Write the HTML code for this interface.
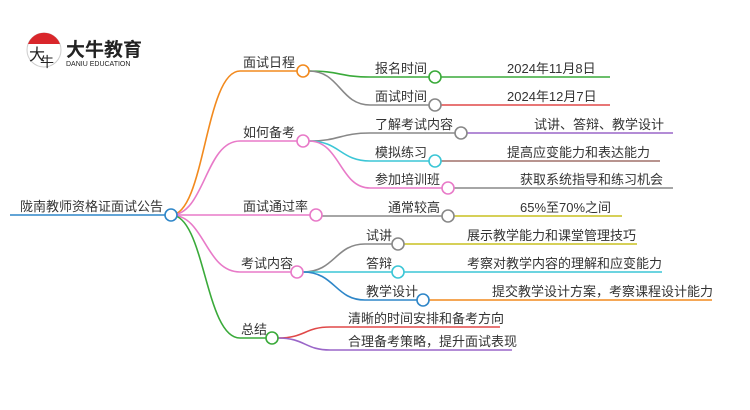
<!DOCTYPE html>
<html><head><meta charset="utf-8"><style>
html,body{margin:0;padding:0;background:#fff}
svg{display:block}
text{font-family:"Liberation Sans","Noto Sans CJK SC",sans-serif;fill:#333}
</style></head><body>
<svg width="750" height="410" viewBox="0 0 750 410" xmlns="http://www.w3.org/2000/svg">
<!-- logo -->
<circle cx="44" cy="50" r="17" fill="#fff" stroke="#ccc" stroke-width="1"/>
<path d="M28 44 A17 17 0 0 1 60 44 Z" fill="#d9262b"/>
<text x="29" y="60" font-size="16" style="fill:#222">大</text>
<text x="40" y="67" font-size="14" style="fill:#222">牛</text>
<text x="66" y="56" font-size="19" font-weight="bold" style="fill:#222">大牛教育</text>
<text x="66" y="66" font-size="7" style="fill:#222">DANIU EDUCATION</text>

<g fill="none" stroke-width="1.6">
<path d="M10 215 L165 215" stroke="#2e86c8"/>
<path d="M171 215 C205 215 205 71 240 71 L297 71" stroke="#f28a1e"/>
<path d="M171 215 C205 215 205 141 240 141 L297 141" stroke="#e87ac8"/>
<path d="M171 215 L310 215" stroke="#e87ac8"/>
<path d="M171 215 C205 215 205 272 240 272 L291 272" stroke="#e87ac8"/>
<path d="M171 215 C205 215 205 338 240 338 L266 338" stroke="#3aaa3a"/>
<path d="M309 71 C340 71 340 77 370 77 L429 77" stroke="#3aaa3a"/>
<path d="M309 71 C340 71 340 105 370 105 L429 105" stroke="#888"/>
<path d="M309 141 C340 141 340 133 370 133 L455 133" stroke="#888"/>
<path d="M309 141 C340 141 340 161 370 161 L429 161" stroke="#3cc6d6"/>
<path d="M309 141 C340 141 340 188 370 188 L442 188" stroke="#e87ac8"/>
<path d="M322 216 L442 216" stroke="#888"/>
<path d="M303 272 C335 272 335 244 365 244 L392 244" stroke="#888"/>
<path d="M303 272 L392 272" stroke="#3cc6d6"/>
<path d="M303 272 C335 272 335 300 365 300 L417 300" stroke="#2e86c8"/>
<path d="M278 338 C305 338 305 327 330 327 L500 327" stroke="#e04848"/>
<path d="M278 338 C305 338 305 350 330 350 L512 350" stroke="#9a66c8"/>
<path d="M441 77 L610 77" stroke="#3aaa3a"/>
<path d="M441 105 L610 105" stroke="#e04848"/>
<path d="M467 133 L673 133" stroke="#9a66c8"/>
<path d="M441 161 L660 161" stroke="#a0706a"/>
<path d="M454 188 L673 188" stroke="#888"/>
<path d="M454 216 L622 216" stroke="#c8c020"/>
<path d="M404 244 L637 244" stroke="#c8c020"/>
<path d="M404 272 L662 272" stroke="#3cc6d6"/>
<path d="M429 300 L712 300" stroke="#f28a1e"/>
</g>
<g fill="#fff" stroke-width="1.6">
<circle cx="171" cy="215" r="6" stroke="#2e86c8"/>
<circle cx="303" cy="71" r="6" stroke="#f28a1e"/>
<circle cx="303" cy="141" r="6" stroke="#e87ac8"/>
<circle cx="316" cy="215" r="6" stroke="#e87ac8"/>
<circle cx="297" cy="272" r="6" stroke="#e87ac8"/>
<circle cx="272" cy="338" r="6" stroke="#3aaa3a"/>
<circle cx="435" cy="77" r="6" stroke="#3aaa3a"/>
<circle cx="435" cy="105" r="6" stroke="#888"/>
<circle cx="461" cy="133" r="6" stroke="#888"/>
<circle cx="435" cy="161" r="6" stroke="#3cc6d6"/>
<circle cx="448" cy="188" r="6" stroke="#e87ac8"/>
<circle cx="448" cy="216" r="6" stroke="#888"/>
<circle cx="398" cy="244" r="6" stroke="#888"/>
<circle cx="398" cy="272" r="6" stroke="#3cc6d6"/>
<circle cx="423" cy="300" r="6" stroke="#2e86c8"/>
</g>
<g font-size="13">
<text x="20" y="211">陇南教师资格证面试公告</text>
<text x="243" y="67">面试日程</text>
<text x="243" y="137">如何备考</text>
<text x="243" y="211">面试通过率</text>
<text x="241" y="268">考试内容</text>
<text x="241" y="334">总结</text>
<text x="375" y="73">报名时间</text>
<text x="375" y="101">面试时间</text>
<text x="375" y="129">了解考试内容</text>
<text x="375" y="157">模拟练习</text>
<text x="375" y="184">参加培训班</text>
<text x="388" y="212">通常较高</text>
<text x="366" y="240">试讲</text>
<text x="366" y="268">答辩</text>
<text x="366" y="296">教学设计</text>
<text x="348" y="323">清晰的时间安排和备考方向</text>
<text x="348" y="346">合理备考策略，提升面试表现</text>
<text x="507" y="73">2024年11月8日</text>
<text x="507" y="101">2024年12月7日</text>
<text x="534" y="129">试讲、答辩、教学设计</text>
<text x="507" y="157">提高应变能力和表达能力</text>
<text x="520" y="184">获取系统指导和练习机会</text>
<text x="520" y="212">65%至70%之间</text>
<text x="467" y="240">展示教学能力和课堂管理技巧</text>
<text x="467" y="268">考察对教学内容的理解和应变能力</text>
<text x="492" y="296">提交教学设计方案，考察课程设计能力</text>
</g>
</svg>
</body></html>
